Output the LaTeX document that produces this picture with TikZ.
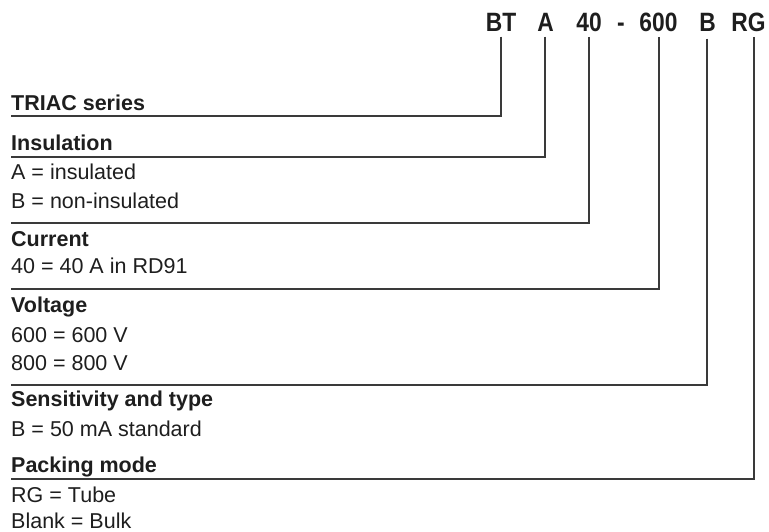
\documentclass[tikz,border=0pt]{standalone}
\usepackage{fontspec}
\setmainfont{Liberation Sans}
\newfontfamily\codefont{Liberation Sans}[FakeStretch=0.86]
\definecolor{ink}{HTML}{1E1E1E}
\definecolor{leadc}{HTML}{3A3A3A}
\begin{document}
\begin{tikzpicture}[x=1pt,y=-1pt,
  code/.style={anchor=base,inner xsep=0pt,inner ysep=5pt,text=ink,font=\codefont\bfseries\fontsize{26.5}{30}\selectfont},
  head/.style={anchor=base west,inner sep=0pt,text=ink,font=\bfseries\fontsize{21.5}{25}\selectfont},
  item/.style={anchor=base west,inner sep=0pt,text=ink,font=\fontsize{21.5}{25}\selectfont},
  lead/.style={draw=leadc,line width=1.4pt}]
\useasboundingbox (0,0) rectangle (769,532);
% code
\node[code] (cBT) at (501,31.5) {BT};
\node[code] (cA) at (545.5,31.5) {A};
\node[code] (c40) at (589,31.5) {40};
\node[code] (cdash) at (621,31.5) {-};
\node[code] (c600) at (658.5,31.5) {600};
\node[code] (cB) at (707.5,31.5) {B};
\node[code] (cRG) at (748.5,31.5) {RG};
% line ends
\coordinate (eBT) at (11,116);
\coordinate (eA) at (11,157);
\coordinate (e40) at (11,223);
\coordinate (e600) at (11,289);
\coordinate (eB) at (11,385);
\coordinate (eRG) at (11,479);
\draw[lead] (cBT.south) |- (eBT);
\draw[lead] ([xshift=-0.5pt]cA.south) |- (eA);
\draw[lead] (c40.south) |- (e40);
\draw[lead] ([xshift=0.5pt]c600.south) |- (e600);
\draw[lead] ([xshift=-0.5pt,yshift=-2pt]cB.south) |- (eB);
\draw[lead] ([xshift=5.5pt]cRG.south) |- (eRG);
% texts
\node[head] (h1) at (11,111) {TRIAC series};
\node[head] (h2) at (11,151) {Insulation};
\node[item] (i21) at (11,179) {A = insulated};
\node[item] (i22) at (11,208) {B = non-insulated};
\node[head] (h3) at (11,247) {Current};
\node[item] (i31) at (11,273) {40 = 40 A in RD91};
\node[head] (h4) at (11,312) {Voltage};
\node[item] (i41) at (11,342.5) {600 = 600 V};
\node[item] (i42) at (11,370) {800 = 800 V};
\node[head] (h5) at (11,406) {Sensitivity and type};
\node[item] (i51) at (11,436) {B = 50 mA standard};
\node[head] (h6) at (11,472) {Packing mode};
\node[item] (i61) at (11,502) {RG = Tube};
\node[item] (i62) at (11,528) {Blank = Bulk};
\end{tikzpicture}
\end{document}
